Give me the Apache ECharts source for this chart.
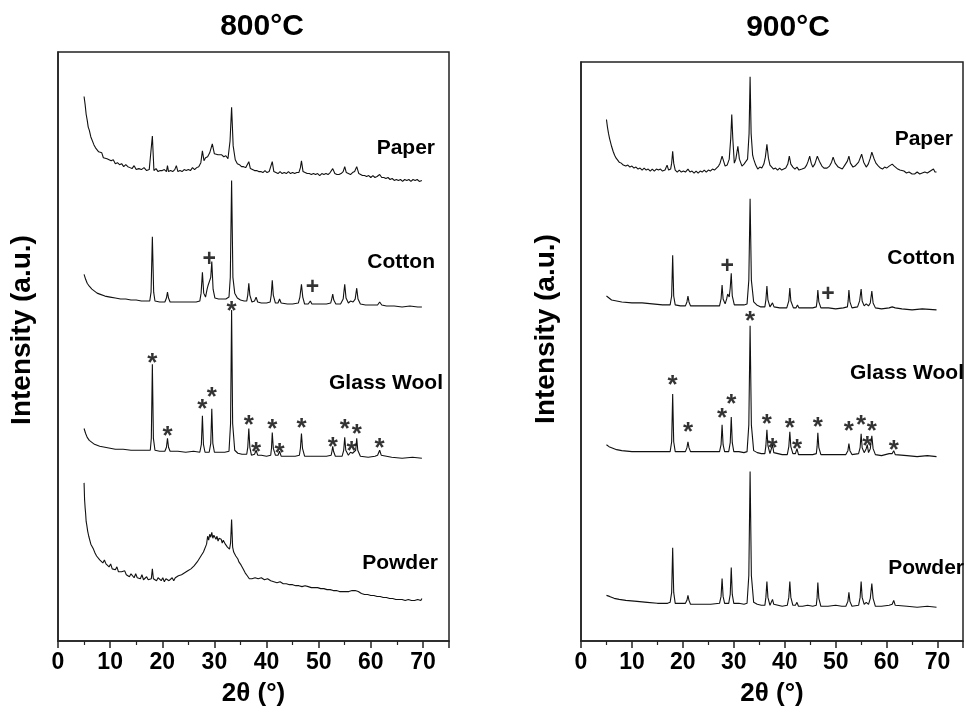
<!DOCTYPE html>
<html>
	<head>
		<meta charset="utf-8" />
		<title>XRD 800°C / 900°C</title>
		<script src="https://cdn.jsdelivr.net/npm/echarts/dist/echarts.min.js"></script>
		<style>
			body { margin: 0; background: #fff; }
			#main { width: 966px; height: 712px; }
		</style>
	</head>
	<body>
		<div id="main"></div>
	<script type="text/javascript">
		//// data: [2theta, intensity above own baseline]
		var xTicks = [0, 10, 20, 30, 40, 50, 60, 70];
		var panelTitles = ['800°C', '900°C'];
		var sampleNames = ['Paper', 'Cotton', 'Glass Wool', 'Powder'];
		// vertical stacking offsets of each pattern (a.u.)
		var offsets800 = [466, 338, 185, 43];
		var offsets900 = [472, 334, 186, 34];

		// 800°C
		var paper800 = [[5.0,85],[5.2,77],[5.4,67],[5.6,61],[5.8,54],[6.0,51],[6.3,44],[6.6,42],[6.9,36],[7.2,33],[7.5,31],[7.8,29],[8.1,27],[8.4,28],[8.7,23],[9.0,25],[9.4,22],[9.8,21],[10.2,20],[10.6,21],[11.0,17],[11.4,18],[11.8,16],[12.2,17],[12.6,14],[13.0,16],[13.4,14],[13.8,13],[14.2,12],[14.6,15],[15.0,11],[15.5,12],[16.0,11],[16.5,13],[17.0,10],[17.5,11],[17.8,11],[18.1,45],[18.4,10],[18.8,12],[19.2,9],[19.6,10],[20.0,10],[20.4,11],[20.8,9],[21.0,15],[21.2,9],[21.6,10],[22.0,9],[22.4,11],[22.7,15],[23.0,9],[23.4,10],[23.8,9],[24.2,11],[24.6,10],[25.0,11],[25.4,10],[25.8,13],[26.2,11],[26.6,13],[27.0,14],[27.4,18],[27.7,30],[28.0,20],[28.3,23],[28.7,24],[29.1,28],[29.6,37],[30.0,27],[30.3,26],[30.7,26],[31.0,25],[31.4,26],[31.8,24],[32.2,25],[32.6,22],[33.0,40],[33.3,74],[33.6,35],[34.0,21],[34.4,17],[34.8,16],[35.2,14],[35.6,14],[36.0,13],[36.3,16],[36.6,19],[36.9,12],[37.3,11],[37.7,10],[38.1,10],[38.5,9],[38.9,9],[39.3,8],[39.7,10],[40.1,8],[40.5,9],[40.8,11],[41.1,19],[41.4,9],[41.8,8],[42.2,7],[42.6,9],[43.0,7],[43.4,8],[43.8,7],[44.2,9],[44.6,7],[45.0,8],[45.4,7],[45.8,8],[46.2,8],[46.5,13],[46.7,20],[47.0,9],[47.4,8],[47.8,7],[48.2,7],[48.6,6],[49.0,7],[49.4,6],[49.8,7],[50.2,5],[50.6,7],[51.0,6],[51.4,7],[51.8,6],[52.2,8],[52.7,12],[53.1,7],[53.5,6],[53.9,6],[54.3,7],[54.7,9],[55.0,14],[55.3,8],[55.7,7],[56.1,6],[56.5,8],[56.9,9],[57.3,14],[57.7,7],[58.0,5],[58.4,5],[58.8,5],[59.2,4],[59.6,5],[60.0,3],[60.4,5],[60.8,3],[61.2,4],[61.7,6],[62.1,3],[62.5,3],[62.9,2],[63.3,3],[63.7,1],[64.1,2],[64.5,0],[64.9,1],[65.3,0],[65.7,1],[66.1,-1],[66.5,1],[66.9,0],[67.3,1],[67.7,-1],[68.1,1],[68.5,0],[68.9,1],[69.3,-1],[69.8,0]];
		var cotton800 = [[5,33],[5.3,28],[5.6,24],[6,21],[6.5,18],[7,16],[7.5,14],[8,13],[9,11],[10,10],[11,9],[12,8],[13,8],[14,7],[15,7],[16,6],[17,6],[17.6,6],[17.85,15],[18.1,71],[18.35,15],[18.6,6],[19.5,5],[20.5,5],[20.8,9],[21,15],[21.2,9],[21.5,5],[23,5],[25,5],[26.5,5],[27.2,6],[27.45,14],[27.7,35],[27.95,14],[28.3,10],[28.6,18],[28.8,22],[29.1,20],[29.3,30],[29.5,46],[29.75,18],[30.1,9],[30.8,8],[31.5,8],[32.2,8],[32.8,10],[33.05,30],[33.3,128],[33.55,30],[33.9,14],[34.4,9],[35,7],[35.7,6],[36.2,6],[36.4,12],[36.6,24],[36.8,12],[37.2,5],[37.7,6],[38,10],[38.3,5],[39,4],[40,4],[40.7,5],[40.9,12],[41.1,27],[41.3,12],[41.7,4],[42.2,4],[42.5,8],[42.8,4],[44,3],[45,3],[46.1,4],[46.4,10],[46.7,23],[46.95,10],[47.3,3],[48,3],[48.4,6],[48.7,3],[50,3],[51.5,3],[52.3,4],[52.5,8],[52.7,13],[52.9,7],[53.3,3],[54.2,3],[54.7,8],[55,23],[55.25,9],[55.7,4],[56.1,6],[56.3,8],[56.6,5],[57,8],[57.3,19],[57.55,8],[58,3],[59,2],[60.5,2],[61.3,2],[61.7,5],[62.1,2],[63,1],[64.5,1],[66,0],[67.5,1],[69,0],[69.8,0]];
		var glass800 = [[5,30],[5.3,25],[5.6,21],[6,18],[6.5,16],[7,14],[8,12],[9,11],[10,10],[11,9],[12.5,9],[14,8],[15.5,8],[17,8],[17.7,8],[17.9,20],[18.1,95],[18.3,20],[18.6,8],[19.5,7],[20.5,7],[20.8,11],[21,20],[21.2,11],[21.5,7],[23,7],[24.5,6],[26,7],[27.2,6],[27.5,14],[27.7,43],[27.9,14],[28.2,6],[29,6],[29.3,15],[29.5,50],[29.7,15],[30,6],[31,6],[32,6],[32.8,7],[33.1,35],[33.3,150],[33.5,35],[33.9,8],[34.5,5],[35.3,4],[36.2,4],[36.4,11],[36.6,30],[36.8,11],[37.1,3],[37.7,4],[38,8],[38.3,3],[39,3],[40,2],[40.8,3],[40.95,10],[41.1,26],[41.3,10],[41.7,3],[42.2,3],[42.5,7],[42.8,2],[44,2],[45.5,2],[46.3,3],[46.5,10],[46.7,25],[46.9,10],[47.3,2],[48.5,2],[50,2],[51.5,2],[52.4,3],[52.55,7],[52.7,12],[52.85,7],[53.2,2],[54.5,2],[54.8,8],[55,21],[55.2,8],[55.7,3],[56.1,6],[56.3,8],[56.5,5],[56.8,3],[57.1,8],[57.3,20],[57.5,8],[58,2],[59.5,1],[60.8,2],[61.3,3],[61.7,8],[62,3],[62.3,1],[64,1],[66,0],[68,1],[69.8,0]];
		var powder800 = [[5.0,117],[5.1,100],[5.2,92],[5.3,86],[5.4,78],[5.5,75],[5.7,68],[5.9,63],[6.1,61],[6.3,55],[6.5,54],[6.8,50],[7.1,46],[7.4,43],[7.7,45],[8.0,39],[8.3,40],[8.6,36],[8.9,39],[9.2,35],[9.5,34],[9.8,32],[10.1,35],[10.4,30],[10.7,31],[11.0,29],[11.3,32],[11.6,27],[11.9,28],[12.2,27],[12.5,25],[12.8,28],[13.1,24],[13.4,26],[13.7,22],[14.0,25],[14.3,23],[14.6,21],[14.9,25],[15.2,21],[15.5,22],[15.8,20],[16.1,24],[16.4,19],[16.7,21],[17.0,22],[17.3,19],[17.6,21],[17.9,20],[18.1,30],[18.3,20],[18.6,21],[18.9,18],[19.2,21],[19.5,19],[19.8,18],[20.1,21],[20.4,17],[20.7,20],[21.0,22],[21.3,18],[21.6,19],[21.9,21],[22.2,18],[22.5,21],[22.8,20],[23.1,23],[23.4,21],[23.7,24],[24.0,23],[24.3,26],[24.6,24],[24.9,28],[25.2,27],[25.5,30],[25.8,31],[26.1,33],[26.4,34],[26.7,37],[27.0,38],[27.3,42],[27.6,44],[27.9,47],[28.2,49],[28.5,55],[28.7,63],[28.9,59],[29.1,65],[29.3,62],[29.5,67],[29.7,61],[29.9,64],[30.1,62],[30.3,60],[30.5,63],[30.7,58],[30.9,61],[31.1,59],[31.3,60],[31.5,56],[31.7,59],[31.9,57],[32.1,55],[32.3,57],[32.5,52],[32.7,54],[32.9,50],[33.1,56],[33.3,80],[33.5,52],[33.7,47],[33.9,46],[34.1,43],[34.3,41],[34.5,40],[34.7,37],[34.9,36],[35.1,34],[35.3,32],[35.5,30],[35.7,29],[35.9,26],[36.1,25],[36.3,23],[36.5,22],[36.7,20],[36.9,22],[37.2,20],[37.5,22],[37.8,21],[38.1,23],[38.4,20],[38.7,22],[39.0,21],[39.3,22],[39.6,19],[39.9,21],[40.2,20],[40.5,19],[40.8,18],[41.1,20],[41.4,17],[41.7,18],[42.0,16],[42.3,18],[42.6,17],[42.9,16],[43.2,15],[43.5,17],[43.8,15],[44.1,16],[44.4,14],[44.7,16],[45.0,14],[45.3,15],[45.6,13],[45.9,15],[46.2,13],[46.5,15],[46.8,12],[47.1,14],[47.4,13],[47.7,13],[48.0,12],[48.3,13],[48.6,11],[48.9,13],[49.2,11],[49.5,12],[49.8,11],[50.1,12],[50.4,10],[50.7,11],[51.0,10],[51.3,11],[51.6,9],[51.9,10],[52.2,9],[52.5,10],[52.8,8],[53.1,10],[53.4,8],[53.7,9],[54.0,7],[54.3,9],[54.6,7],[54.9,8],[55.2,7],[55.5,9],[55.8,7],[56.1,8],[56.4,8],[56.7,9],[57.0,8],[57.3,9],[57.6,7],[57.9,7],[58.2,5],[58.5,6],[58.8,4],[59.1,5],[59.4,4],[59.7,5],[60.0,3],[60.3,4],[60.6,3],[60.9,4],[61.2,2],[61.5,3],[61.8,2],[62.1,3],[62.4,1],[62.7,2],[63.0,1],[63.3,2],[63.6,0],[63.9,2],[64.2,0],[64.5,1],[64.8,-1],[65.1,1],[65.4,-1],[65.7,0],[66.0,-1],[66.3,0],[66.6,-2],[66.9,0],[67.2,-1],[67.5,0],[67.8,-2],[68.1,-1],[68.4,-2],[68.7,0],[69.0,-1],[69.3,0],[69.6,-2],[69.8,0]];
		// marker positions on Glass Wool (*) and Cotton (+), 800°C
		var stars800 = [[18.1,102],[21,28],[27.7,55],[29.5,67],[33.3,154],[36.6,39],[38,11],[41.1,35],[42.5,10],[46.7,36],[52.7,17],[55,35],[56.3,12],[57.3,30],[61.7,16]];
		var plus800 = [[29.0,48],[48.8,20]];

		// 900°C
		var paper900 = [[5,54],[5.2,46],[5.4,40],[5.6,35],[5.8,31],[6,27],[6.3,22],[6.6,18],[6.9,15],[7.2,13],[7.5,11],[7.9,10],[8.3,8],[8.8,7],[9.2,8],[9.6,6],[10,7],[10.4,5],[10.8,6],[11.2,4],[11.6,5],[12,3],[12.4,5],[12.8,3],[13.2,4],[13.6,2],[14,4],[14.4,2],[14.8,4],[15.2,3],[15.6,4],[16,2],[16.5,3],[16.9,8],[17.2,3],[17.6,4],[17.8,10],[18,22],[18.2,10],[18.5,3],[18.9,1],[19.3,3],[19.7,1],[20.1,2],[20.5,1],[21,4],[21.4,1],[21.8,2],[22.2,0],[22.6,2],[23,0],[23.4,2],[23.8,1],[24.2,3],[24.6,1],[25,3],[25.4,2],[25.8,4],[26.2,3],[26.6,5],[27,7],[27.3,10],[27.7,17],[28,12],[28.3,7],[28.7,8],[29.1,14],[29.4,35],[29.6,59],[29.8,35],[30.1,10],[30.4,14],[30.8,27],[31.1,14],[31.6,7],[32,9],[32.3,10],[32.7,14],[33,40],[33.2,97],[33.4,40],[33.7,18],[33.9,14],[34.3,8],[34.7,4],[35.1,6],[35.5,5],[35.9,9],[36.2,16],[36.5,29],[36.8,15],[37.1,8],[37.4,7],[37.8,4],[38.2,5],[38.6,3],[39,5],[39.4,3],[39.8,4],[40.2,5],[40.6,9],[40.9,17],[41.2,9],[41.6,6],[42,4],[42.4,6],[42.8,3],[43.4,4],[43.9,5],[44.3,8],[44.6,12],[44.9,17],[45.2,10],[45.5,6],[45.9,9],[46.4,17],[46.8,12],[47.3,7],[47.7,5],[48.3,5],[48.8,7],[49.2,11],[49.5,16],[49.9,10],[50.5,6],[50.9,5],[51.3,4],[51.8,8],[52.3,12],[52.6,17],[52.9,10],[53.4,6],[53.8,7],[54.1,8],[54.5,11],[55.1,19],[55.5,11],[56,6],[56.4,9],[56.8,15],[57.1,21],[57.5,15],[57.9,10],[58.4,7],[58.8,5],[59.2,4],[59.6,6],[60,5],[60.5,7],[61.1,9],[61.5,7],[61.8,7],[62.2,4],[62.6,3],[62.9,1],[63.4,2],[63.9,0],[64.4,1],[65,-1],[65.5,-1],[66,1],[66.5,-1],[67,0],[67.5,1],[68,0],[68.6,2],[69.2,4],[69.5,1],[69.8,1]];
		var cotton900 = [[5,14],[5.5,12],[6,10],[7,9],[8,8],[10,7],[12,7],[14,6],[16,5],[17.5,5],[17.8,14],[18,55],[18.2,14],[18.5,5],[19.5,4],[20.5,4],[20.8,8],[21,14],[21.2,8],[21.5,4],[23.5,4],[25.5,4],[27.2,4],[27.5,11],[27.7,25],[27.9,11],[28.3,6],[28.6,11],[28.8,16],[29.1,13],[29.3,22],[29.5,37],[29.7,14],[30.1,5],[31,5],[32,5],[32.6,6],[32.95,30],[33.2,112],[33.45,30],[33.9,8],[34.5,5],[35.3,3],[36.1,3],[36.3,10],[36.5,24],[36.7,10],[37.1,3],[37.4,4],[37.6,7],[37.9,3],[39,2],[40.4,2],[40.8,9],[41,22],[41.2,9],[41.7,2],[42.2,2],[42.5,5],[42.8,2],[44,2],[45.5,2],[46.2,3],[46.35,9],[46.5,20],[46.7,8],[47.1,2],[48,2],[48.3,4],[48.6,2],[50,1],[51.5,2],[52.3,3],[52.45,9],[52.6,20],[52.8,8],[53.2,2],[54.3,3],[54.7,9],[55,21],[55.2,9],[55.6,4],[56,6],[56.2,8],[56.45,4],[56.8,7],[57.1,19],[57.35,7],[57.8,2],[59,1],[60.5,2],[61.1,3],[61.4,5],[61.7,2],[63,1],[65,0],[67,1],[69.8,0]];
		var glass900 = [[5,12],[5.5,10],[6,9],[7,7],[8,6],[10,5],[12,5],[14,5],[16,5],[17.5,5],[17.8,15],[18,63],[18.2,15],[18.5,5],[19.5,5],[20.5,5],[20.8,9],[21,15],[21.2,9],[21.5,5],[23.5,5],[25.5,5],[27.2,5],[27.5,12],[27.7,32],[27.9,12],[28.2,5],[29,5],[29.3,14],[29.5,40],[29.7,14],[30,5],[31,5],[32,4],[32.6,5],[32.95,32],[33.2,132],[33.45,32],[33.9,6],[34.6,4],[35.4,3],[36.1,3],[36.3,11],[36.5,27],[36.7,11],[37.1,3],[37.4,5],[37.6,12],[37.85,4],[38.2,2],[39.5,2],[40.5,2],[40.8,10],[41,25],[41.2,10],[41.6,3],[42.1,3],[42.4,8],[42.7,2],[44.5,2],[45.5,2],[46.2,3],[46.35,10],[46.5,24],[46.7,9],[47.1,2],[48.5,2],[50,2],[52,2],[52.4,6],[52.6,13],[52.8,6],[53.2,2],[54.5,3],[54.8,9],[55,23],[55.2,9],[55.6,4],[56,8],[56.2,12],[56.45,4],[56.8,8],[57.1,21],[57.35,8],[57.8,2],[59,1],[60.5,3],[61.1,3],[61.4,6],[61.7,2],[62,2],[64,1],[66,0],[68,1],[69.8,0]];
		var powder900 = [[5,12],[5.3,13],[5.6,11],[6.5,9],[7.5,8],[8.8,7],[11,6],[13,5],[15,4],[17,4],[17.3,5],[17.5,5],[17.8,15],[18,60],[18.2,15],[18.5,4],[19.5,4],[20.5,4],[20.8,7],[21,12],[21.2,7],[21.5,3],[23.5,3],[25.5,3],[27.2,4],[27.5,11],[27.7,29],[27.9,11],[28.2,4],[29,4],[29.3,13],[29.5,40],[29.7,13],[30,4],[31,4],[32,3],[32.6,4],[32.95,32],[33.2,137],[33.45,32],[33.9,5],[34.6,3],[35.4,2],[36.1,2],[36.3,10],[36.5,26],[36.7,10],[37.1,2],[37.4,3],[37.6,8],[37.85,3],[38.2,2],[39.5,1],[40.5,2],[40.8,10],[41,26],[41.2,10],[41.6,2],[42.1,2],[42.4,5],[42.7,1],[43.5,1],[44.5,2],[45.5,1],[46.2,2],[46.35,10],[46.5,25],[46.7,9],[47.1,1],[48.5,1],[50,2],[51.2,1],[52,1],[52.4,6],[52.6,15],[52.8,6],[53.2,1],[54.5,2],[54.8,10],[55,26],[55.2,10],[55.6,3],[56,5],[56.2,6],[56.45,3],[56.8,9],[57.1,24],[57.35,9],[57.8,1],[59,1],[60.5,2],[61.1,3],[61.4,7],[61.7,2],[62,1],[64,1],[66,0],[68,1],[69.8,0]];
		var stars900 = [[18,77],[21,30],[27.7,44],[29.5,58],[33.2,142],[36.5,38],[37.6,14],[41,34],[42.4,13],[46.5,35],[52.6,31],[55,37],[56.2,16],[57.1,31],[61.4,12]];
		var plus900 = [[28.7,44],[48.5,15]];

		var patterns800 = [paper800, cotton800, glass800, powder800];
		var patterns900 = [paper900, cotton900, glass900, powder900];

		var FONT = "'Liberation Sans', Arial, sans-serif";

		function shift(arr, off) {
			return arr.map(function (p) { return [p[0], p[1] + off]; });
		}

		function xAxisFor(idx) {
			return {
				gridIndex: idx,
				type: 'value',
				min: 0,
				max: 75,
				interval: 10,
				name: '2θ (°)',
				nameLocation: 'middle',
				nameGap: 40,
				nameTextStyle: { fontFamily: FONT, fontSize: 26, fontWeight: 'bold', color: '#000' },
				axisLine: { lineStyle: { color: '#222', width: 1.5 } },
				axisTick: { show: true, inside: false, length: 7, lineStyle: { color: '#222', width: 1.5 } },
				minorTick: { show: true, splitNumber: 2, length: 4, lineStyle: { color: '#222', width: 1.2 } },
				axisLabel: {
					fontFamily: FONT, fontSize: 23, fontWeight: 'bold', color: '#000', margin: 10,
					formatter: function (v) { return xTicks.indexOf(v) >= 0 ? String(v) : ''; }
				},
				splitLine: { show: false }
			};
		}

		function yAxisFor(idx, top) {
			return {
				gridIndex: idx,
				type: 'value',
				min: 0,
				max: top,
				axisLine: { show: true, lineStyle: { color: '#222', width: 1.5 } },
				axisTick: { show: false },
				axisLabel: { show: false },
				splitLine: { show: false }
			};
		}

		var series = [];
		function addPanel(idx, patterns, offsets, stars, plus) {
			patterns.forEach(function (p, i) {
				series.push({
					name: sampleNames[i] + ' ' + panelTitles[idx],
					type: 'line',
					xAxisIndex: idx,
					yAxisIndex: idx,
					showSymbol: false,
					symbol: 'none',
					lineStyle: { color: '#111', width: 1.1 },
					data: shift(p, offsets[i])
				});
			});
			// * on Glass Wool
			series.push({
				type: 'scatter', xAxisIndex: idx, yAxisIndex: idx,
				symbolSize: 0,
				label: { show: true, formatter: '*', position: 'inside', offset: [0, 6],
					fontFamily: FONT, fontSize: 26, fontWeight: 'bold', color: '#000' },
				data: shift(stars, offsets[2])
			});
			// + on Cotton
			series.push({
				type: 'scatter', xAxisIndex: idx, yAxisIndex: idx,
				symbolSize: 0,
				label: { show: true, formatter: '+', position: 'inside', offset: [0, 0],
					fontFamily: FONT, fontSize: 23, fontWeight: 'bold', color: '#000' },
				data: shift(plus, offsets[1])
			});
		}
		addPanel(0, patterns800, offsets800, stars800, plus800);
		addPanel(1, patterns900, offsets900, stars900, plus900);

		// text helpers for titles / names
		function txt(text, x, y, size, align, rot) {
			return {
				type: 'text', x: x, y: y, rotation: rot || 0,
				style: { text: text, fontFamily: FONT, fontSize: size, fontWeight: 'bold', fill: '#000',
					textAlign: align || 'center', textVerticalAlign: 'middle' }
			};
		}

		var graphics = [
			txt(panelTitles[0], 262, 27, 30),
			txt(panelTitles[1], 788, 28, 30),
			txt('Intensity (a.u.)', 22, 330, 28, 'center', Math.PI / 2),
			txt('Intensity (a.u.)', 546, 329, 28, 'center', Math.PI / 2),
			txt(sampleNames[0], 435, 148, 21, 'right'),
			txt(sampleNames[1], 435, 262, 21, 'right'),
			txt(sampleNames[2], 443, 383, 21, 'right'),
			txt(sampleNames[3], 438, 563, 21, 'right'),
			txt(sampleNames[0], 953, 139, 21, 'right'),
			txt(sampleNames[1], 955, 258, 21, 'right'),
			txt(sampleNames[2], 964, 373, 21, 'right'),
			txt(sampleNames[3], 964, 568, 21, 'right')
		];

		var myChart = echarts.init(document.getElementById('main'), null, { renderer: 'canvas' });
		var option = {
			animation: false,
			backgroundColor: '#fff',
			grid: [
				{ left: 58, top: 52, width: 391, height: 596, show: true, borderColor: '#222', borderWidth: 1.5, backgroundColor: 'transparent' },
				{ left: 581, top: 62, width: 389, height: 584, show: true, borderColor: '#222', borderWidth: 1.5, backgroundColor: 'transparent' }
			],
			xAxis: [xAxisFor(0), xAxisFor(1)],
			yAxis: [yAxisFor(0, 596), yAxisFor(1, 584)],
			series: series,
			graphic: graphics
		};
		myChart.setOption(option);
	</script>
	</body>
</html>
